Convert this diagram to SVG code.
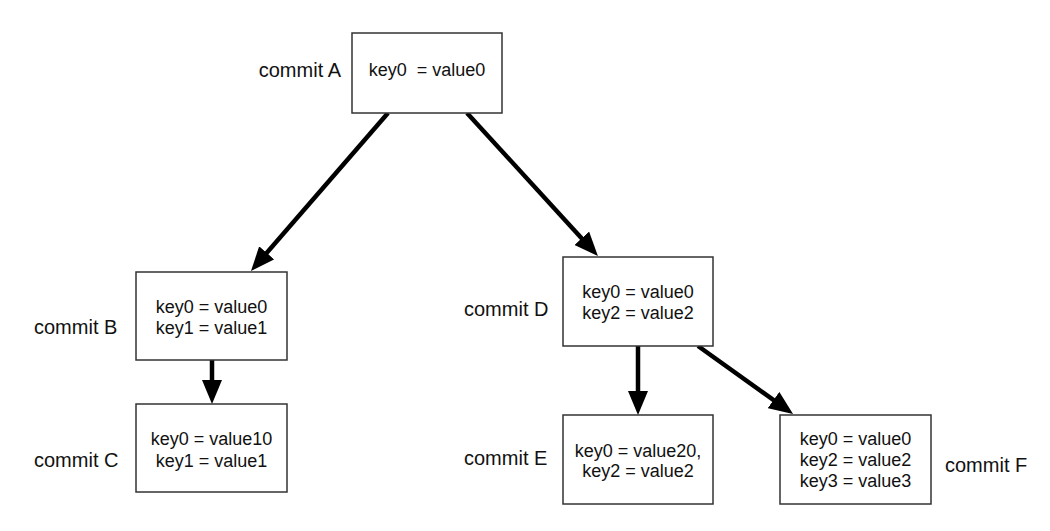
<svg xmlns="http://www.w3.org/2000/svg" width="1050" height="531" viewBox="0 0 1050 531">
<style>
.box{fill:#fff;stroke:#333;stroke-width:1.5}
.t{font-family:"Liberation Sans",Arial,sans-serif;font-size:18px;fill:#111;text-anchor:middle}
.lbl{font-family:"Liberation Sans",Arial,sans-serif;font-size:20px;fill:#111}
.edge{stroke:#000;stroke-width:4.5;fill:none;marker-end:url(#ah)}
</style>
<defs>
<marker id="ah" viewBox="0 0 24 20" refX="13" refY="10" markerWidth="24" markerHeight="20" markerUnits="userSpaceOnUse" orient="auto">
<path d="M0,0 L24,10 L0,20 z" fill="#000"/>
</marker>
</defs>
<rect width="1050" height="531" fill="#fff"/>
<g id="connectors">
<line class="edge" x1="388" y1="113" x2="258.2" y2="262.7"/>
<line class="edge" x1="467" y1="113" x2="590.5" y2="247.9"/>
<line class="edge" x1="212" y1="360" x2="212" y2="393"/>
<line class="edge" x1="638" y1="346" x2="638" y2="404"/>
<line class="edge" x1="698" y1="346" x2="784.1" y2="407.6"/>
</g>
<g id="commitA">
<rect class="box" x="352" y="33" width="150" height="80"/>
<text class="t" x="427" y="76" xml:space="preserve">key0  = value0</text>
<text class="lbl" x="341" y="77" text-anchor="end">commit A</text>
</g>
<g id="commitB">
<rect class="box" x="136" y="272" width="151" height="88"/>
<text class="t" x="211.5" y="313">key0 = value0</text>
<text class="t" x="211.5" y="334">key1 = value1</text>
<text class="lbl" x="34" y="334">commit B</text>
</g>
<g id="commitC">
<rect class="box" x="136" y="404" width="151" height="88"/>
<text class="t" x="211.5" y="445">key0 = value10</text>
<text class="t" x="211.5" y="466.5">key1 = value1</text>
<text class="lbl" x="34" y="467">commit C</text>
</g>
<g id="commitD">
<rect class="box" x="563" y="257" width="150" height="89"/>
<text class="t" x="638" y="298">key0 = value0</text>
<text class="t" x="638" y="319">key2 = value2</text>
<text class="lbl" x="464" y="316">commit D</text>
</g>
<g id="commitE">
<rect class="box" x="563" y="415" width="150" height="89"/>
<text class="t" x="638" y="456.5">key0 = value20,</text>
<text class="t" x="638" y="476.5">key2 = value2</text>
<text class="lbl" x="464" y="465">commit E</text>
</g>
<g id="commitF">
<rect class="box" x="780" y="415" width="151" height="89"/>
<text class="t" x="855.5" y="445">key0 = value0</text>
<text class="t" x="855.5" y="465.5">key2 = value2</text>
<text class="t" x="855.5" y="486.5">key3 = value3</text>
<text class="lbl" x="945" y="472">commit F</text>
</g>
</svg>
